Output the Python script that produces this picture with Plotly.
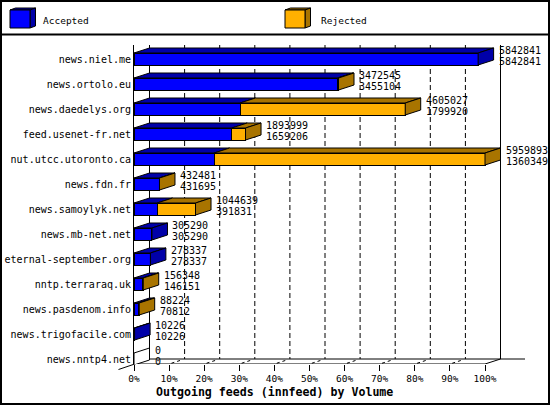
import plotly.graph_objects as go

# ---------------- data ----------------
hosts = ["news.niel.me", "news.ortolo.eu", "news.daedelys.org", "feed.usenet-fr.net",
         "nut.utcc.utoronto.ca", "news.fdn.fr", "news.samoylyk.net", "news.mb-net.net",
         "eternal-september.org", "nntp.terraraq.uk", "news.pasdenom.info",
         "news.trigofacile.com", "news.nntp4.net"]
total = [5842841, 3472545, 4605027, 1893999, 5959893, 432481, 1044639, 305290,
         278337, 156348, 88224, 10226, 0]
accepted = [5842841, 3455104, 1799920, 1659206, 1360349, 431695, 391831, 305290,
            278337, 146151, 70812, 10226, 0]
pct_ticks = [0, 10, 20, 30, 40, 50, 60, 70, 80, 90, 100]
tick_labels = [f"{p}%" for p in pct_ticks]
series_names = ["Accepted", "Rejected"]
x_title = "Outgoing feeds (innfeed) by Volume"

rejected = [t - a for t, a in zip(total, accepted)]

# ---------------- geometry / style ----------------
W, H = 550, 405
ML, MR, MT, MB = 134, 25, 45, 41
PW, PH = W - ML - MR, H - MT - MB
FRONT_PX = 351           # pixel length of 100 %
DX_PX = 15.5             # depth offset (px)
M = max(total)
X_MAX = M * PW / FRONT_PX
dxv = DX_PX * M / FRONT_PX
Y_RANGE = [12.2, -0.56]
dyv = 0.2
hh = 0.24

BLUE, BLUE_D = "#0000FF", "#0000A8"
ORNG, ORNG_D = "#FFB000", "#A87400"
FONT = "DejaVu Sans Mono"

idx = list(range(len(hosts)))


def xp(px):
    return (px - ML) / PW


def yp(py):
    return (H - MB - py) / PH


fig = go.Figure()

# front faces
fig.add_trace(go.Bar(y=idx, x=accepted, orientation="h", width=2 * hh,
                     marker=dict(color=BLUE, line=dict(color="black", width=1)),
                     name=series_names[0], hoverinfo="skip", showlegend=False))
fig.add_trace(go.Bar(y=idx, x=rejected, base=accepted, orientation="h", width=2 * hh,
                     marker=dict(color=ORNG, line=dict(color="black", width=1)),
                     name=series_names[1], hoverinfo="skip", showlegend=False))


def top_face(a, b, i, xs, ys):
    xs += [a, b, b + dxv, a + dxv, a, None]
    ys += [i - hh, i - hh, i - hh - dyv, i - hh - dyv, i - hh, None]


def side_face(b, i, xs, ys):
    xs += [b, b + dxv, b + dxv, b, b, None]
    ys += [i - hh, i - hh - dyv, i + hh - dyv, i + hh, i - hh, None]


bt_x, bt_y, ot_x, ot_y = [], [], [], []
bs_x, bs_y, os_x, os_y, es_x, es_y = [], [], [], [], [], []
for i in idx:
    a, r, t = accepted[i], rejected[i], total[i]
    if a > 0:
        top_face(0, a, i, bt_x, bt_y)
    if r > 0:
        top_face(a, t, i, ot_x, ot_y)
        side_face(t, i, os_x, os_y)
    elif a > 0:
        side_face(a, i, bs_x, bs_y)
    else:
        side_face(0, i, es_x, es_y)

for xs, ys, col in [(bt_x, bt_y, BLUE_D), (ot_x, ot_y, ORNG_D),
                    (bs_x, bs_y, BLUE_D), (os_x, os_y, ORNG_D), (es_x, es_y, "white")]:
    if xs:
        fig.add_trace(go.Scatter(x=xs, y=ys, mode="lines", fill="toself", fillcolor=col,
                                 line=dict(color="black", width=1), hoverinfo="skip",
                                 showlegend=False))

shapes = []
y_front = Y_RANGE[0]
y_back = Y_RANGE[0] - dyv
y_top = Y_RANGE[1]
# dashed back gridlines
for p in pct_ticks[1:-1]:
    xv = p / 100 * M + dxv
    shapes.append(dict(type="line", xref="x", yref="y", x0=xv, x1=xv, y0=y_top, y1=y_back,
                       line=dict(color="black", width=1, dash="5px,3px"), layer="below"))
    # floor depth marks
    x0 = p / 100 * M
    shapes.append(dict(type="line", xref="x", yref="y", x0=x0 + dxv * 0.15, x1=x0 + dxv * 0.85,
                       y0=y_front - dyv * 0.15, y1=y_front - dyv * 0.85,
                       line=dict(color="black", width=1, dash="3px,3px"), layer="below"))
# back wall edges
for xv in [dxv, M + dxv]:
    shapes.append(dict(type="line", xref="x", yref="y", x0=xv, x1=xv, y0=y_top, y1=y_back,
                       line=dict(color="black", width=1), layer="below"))
# floor back line
shapes.append(dict(type="line", xref="x", yref="y", x0=dxv, x1=X_MAX, y0=y_back, y1=y_back,
                   line=dict(color="black", width=1), layer="below"))
# floor front line
shapes.append(dict(type="line", xref="x", yref="y", x0=0, x1=M, y0=y_front, y1=y_front,
                   line=dict(color="black", width=1), layer="below"))
# floor right diagonal
shapes.append(dict(type="line", xref="x", yref="y", x0=M, x1=M + dxv, y0=y_front, y1=y_back,
                   line=dict(color="black", width=1), layer="below"))
# floor left diagonal (extends lower-left)
shapes.append(dict(type="line", xref="paper", yref="paper", x0=xp(118.5), x1=xp(ML + DX_PX),
                   y0=yp(369.5), y1=yp(H - MB - 5),
                   line=dict(color="black", width=1), layer="below"))

# page border and legend separator
shapes.append(dict(type="rect", xref="paper", yref="paper", x0=xp(1), x1=xp(549),
                   y0=yp(1), y1=yp(404), line=dict(color="black", width=2)))
shapes.append(dict(type="line", xref="paper", yref="paper", x0=xp(0), x1=xp(550),
                   y0=yp(34.5), y1=yp(34.5), line=dict(color="black", width=2)))


def cube(x0, col, dcol):
    fx0, fx1, fy0, fy1 = x0, x0 + 20, 10, 28
    d, u = 5.5, 2

    def path(pts):
        return "M " + " L ".join(f"{xp(a)},{yp(b)}" for a, b in pts) + " Z"

    return [
        dict(type="path", xref="paper", yref="paper",
             path=path([(fx0, fy0), (fx1, fy0), (fx1 + d, fy0 - u), (fx0 + d, fy0 - u)]),
             fillcolor=dcol, line=dict(color="black", width=1)),
        dict(type="path", xref="paper", yref="paper",
             path=path([(fx1, fy0), (fx1 + d, fy0 - u), (fx1 + d, fy1 - u), (fx1, fy1)]),
             fillcolor=dcol, line=dict(color="black", width=1)),
        dict(type="path", xref="paper", yref="paper",
             path=path([(fx0, fy0), (fx1, fy0), (fx1, fy1), (fx0, fy1)]),
             fillcolor=col, line=dict(color="black", width=1)),
    ]


shapes += cube(10, BLUE, BLUE_D)
shapes += cube(285, ORNG, ORNG_D)

annotations = []
for i in idx:
    annotations.append(dict(x=total[i], y=i, xref="x", yref="y", text=str(total[i]),
                            showarrow=False, xanchor="left", yanchor="middle",
                            xshift=DX_PX + 3, yshift=9,
                            font=dict(family=FONT, size=10, color="black")))
    annotations.append(dict(x=total[i], y=i, xref="x", yref="y", text=str(accepted[i]),
                            showarrow=False, xanchor="left", yanchor="middle",
                            xshift=DX_PX + 3, yshift=-2,
                            font=dict(family=FONT, size=10, color="black")))
annotations.append(dict(x=xp(41), y=yp(20.5), xref="paper", yref="paper", text=series_names[0],
                        showarrow=False, xanchor="left", yanchor="middle",
                        font=dict(family=FONT, size=9.5, color="black")))
annotations.append(dict(x=xp(319), y=yp(20.5), xref="paper", yref="paper", text=series_names[1],
                        showarrow=False, xanchor="left", yanchor="middle",
                        font=dict(family=FONT, size=9.5, color="black")))
annotations.append(dict(x=xp(274.5), y=yp(392), xref="paper", yref="paper",
                        text=f"<b>{x_title}</b>", showarrow=False,
                        xanchor="center", yanchor="middle",
                        font=dict(family=FONT, size=11.6, color="black")))

fig.update_layout(
    template="none",
    width=W, height=H,
    margin=dict(l=ML, r=MR, t=MT, b=MB, pad=0, autoexpand=False),
    paper_bgcolor="white", plot_bgcolor="white",
    barmode="stack", showlegend=False,
    shapes=shapes, annotations=annotations,
    xaxis=dict(range=[0, X_MAX], tickvals=[p / 100 * M for p in pct_ticks],
               ticktext=tick_labels, ticks="outside", ticklen=6, tickcolor="black",
               tickwidth=1, showgrid=False, zeroline=False, showline=False,
               automargin=False,
               tickfont=dict(family=FONT, size=9.5, color="black"), fixedrange=True),
    yaxis=dict(range=Y_RANGE, tickvals=idx, ticktext=hosts, ticks="",
               showgrid=False, zeroline=False, showline=True, linecolor="black",
               linewidth=1, automargin=False,
               tickfont=dict(family=FONT, size=10, color="black"),
               fixedrange=True),
)

fig.write_html(
    "out.html", config={"displayModeBar": False},
    post_script=("document.documentElement.style.margin='0';"
                 "document.documentElement.style.overflow='hidden';"
                 "document.body.style.margin='0';document.body.style.padding='0';"
                 "document.body.style.overflow='hidden';"))
